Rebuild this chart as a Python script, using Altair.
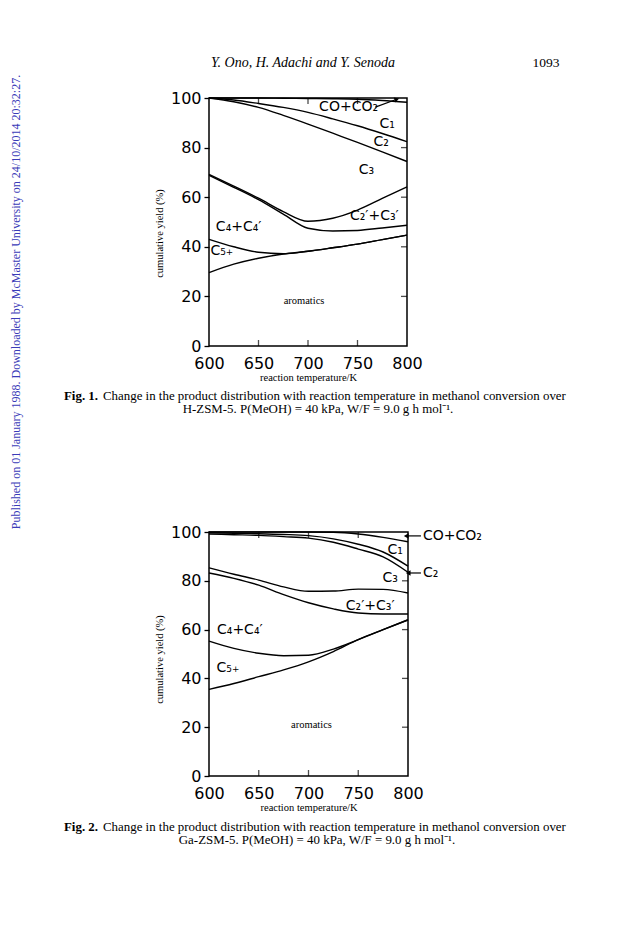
import altair as alt
import pandas as pd

# ---------------- data ----------------
T = [600, 625, 650, 675, 700, 725, 750, 775, 800]
boundary_names = ["aromatics", "C5+", "C4+C4'", "C2'+C3'", "C3", "C2", "C1"]

# Fig. 1  (H-ZSM-5) cumulative yield boundaries (% , upper edge of each band)
fig1_aromatics = [29.6, 33.0, 35.4, 37.1, 38.2, 39.6, 41.1, 42.9, 44.7]
fig1_c5 = [43.0, 40.0, 37.8, 37.2, 38.2, 39.6, 41.1, 42.9, 44.7]
fig1_c4 = [68.8, 64.0, 59.0, 53.2, 47.5, 46.4, 46.6, 47.6, 48.7]
fig1_c23ene = [69.2, 64.5, 59.6, 54.2, 50.3, 51.5, 54.8, 59.5, 64.2]
fig1_c3 = [100.0, 98.5, 96.2, 93.0, 89.5, 85.8, 82.1, 78.3, 74.4]
fig1_c2 = [100.0, 99.2, 97.8, 96.2, 94.2, 91.6, 88.8, 85.7, 82.4]
fig1_c1 = [100.0, 100.0, 100.0, 99.9, 99.8, 99.7, 99.5, 99.0, 98.3]

# Fig. 2  (Ga-ZSM-5)
fig2_aromatics = [35.5, 37.9, 40.7, 43.5, 46.8, 51.0, 55.9, 60.0, 64.0]
fig2_c5 = [55.3, 52.3, 50.3, 49.3, 49.5, 52.0, 55.9, 60.0, 64.0]
fig2_c4 = [83.2, 81.0, 78.2, 74.3, 71.0, 68.5, 66.8, 66.4, 66.4]
fig2_c23ene = [85.3, 82.7, 80.3, 77.5, 75.7, 75.8, 76.6, 76.5, 75.0]
fig2_c3 = [99.2, 98.9, 98.6, 98.1, 97.5, 95.8, 93.0, 89.8, 83.5]
fig2_c2 = [99.7, 99.5, 99.3, 99.0, 98.5, 97.2, 95.0, 91.8, 86.0]
fig2_c1 = [100.0, 100.0, 100.0, 100.0, 100.0, 99.9, 99.2, 97.8, 96.0]

fig1_labels = ["CO+CO₂", "C₁", "C₂", "C₃", "C₂′+C₃′", "C₄+C₄′", "C₅₊"]
fig1_label_T = [741, 780, 774, 759, 767, 630, 613]
fig1_label_y = [96.2, 89.5, 82.1, 70.9, 52.5, 47.8, 38.4]

fig2_labels = ["C₁", "C₃", "C₂′+C₃′", "C₄+C₄′", "C₅₊"]
fig2_label_T = [787, 782, 762, 631, 619]
fig2_label_y = [92.8, 81.2, 69.6, 60.0, 44.3]

fig2_side_labels = ["CO+CO₂", "C₂"]
fig2_side_T = [815, 815]
fig2_side_y = [98.4, 83.2]
fig2_arrow_from = [813, 813]
fig2_arrow_to = [799, 801]

fig1_arrow_T = [768, 789]
fig1_arrow_y = [96.3, 99.4]

aromatics_T = [696, 703]
aromatics_y = [18.2, 21.1]

x_ticks = [600, 650, 700, 750, 800]
y_ticks = [0, 20, 40, 60, 80, 100]
inner_x_ticks = [650, 700, 750]
inner_y_ticks = [20, 40, 60, 80]

header_text = "Y. Ono, H. Adachi and Y. Senoda"
page_number = "1093"
side_text = "Published on 01 January 1988. Downloaded by McMaster University on 24/10/2014 20:32:27."
fig1_caption = ["Change in the product distribution with reaction temperature in methanol conversion over",
                "H-ZSM-5. P(MeOH) = 40 kPa, W/F = 9.0 g h mol⁻¹."]
fig2_caption = ["Change in the product distribution with reaction temperature in methanol conversion over",
                "Ga-ZSM-5. P(MeOH) = 40 kPa, W/F = 9.0 g h mol⁻¹."]

SANS = "DejaVu Sans"
SERIF = "Liberation Serif"


def x_enc(title_y):
    return alt.X("T:Q", scale=alt.Scale(domain=[600, 800], nice=False, zero=False),
                 axis=alt.Axis(values=x_ticks, format="d", title="reaction temperature/K",
                               ticks=False, domain=False, grid=False, labelFlush=False,
                               labelOverlap=False, labelFont=SANS, labelFontSize=16,
                               labelColor="black", labelPadding=9, titleFont=SERIF,
                               titleFontSize=10.5, titleFontWeight="normal", titleColor="black",
                               titleY=title_y, titleBaseline="middle"))


def y_enc(title_y):
    return alt.Y("value:Q", scale=alt.Scale(domain=[0, 100], nice=False),
                 axis=alt.Axis(values=y_ticks, format="d", title="cumulative yield (%)",
                               tickSize=5, tickColor="black", tickWidth=1.3, domain=False,
                               grid=False, labelFont=SANS, labelFontSize=16, labelColor="black",
                               labelPadding=3, labelFlush=False, labelOverlap=False,
                               titleFont=SERIF, titleFontSize=10.5, titleFontWeight="normal",
                               titleColor="black", titleX=-50, titleY=title_y, titleAngle=270,
                               titleAlign="center", titleBaseline="middle"))


def panel(series, labels, lab_T, lab_y, arom_T, arom_y, w, h, title_y, ytitle_y):
    rows = []
    for name, vals in zip(boundary_names, series):
        for t, v in zip(T, vals):
            rows.append({"T": t, "value": v, "boundary": name})
    lines = alt.Chart(pd.DataFrame(rows)).mark_line(
        interpolate="monotone", color="black", strokeWidth=1.4
    ).encode(x=x_enc(title_y), y=y_enc(ytitle_y), detail="boundary:N")

    lab = alt.Chart(pd.DataFrame({"T": lab_T, "value": lab_y, "label": labels})).mark_text(
        font=SANS, fontSize=14, color="black"
    ).encode(x="T:Q", y="value:Q", text="label:N")

    arom = alt.Chart(pd.DataFrame({"T": [arom_T], "value": [arom_y], "label": ["aromatics"]})).mark_text(
        font=SERIF, fontSize=10.5, color="black"
    ).encode(x="T:Q", y="value:Q", text="label:N")

    tb = alt.Chart(pd.DataFrame({"T": inner_x_ticks, "value": [0] * 3})).mark_tick(
        orient="vertical", size=6, thickness=1.3, color="black", yOffset=-3
    ).encode(x="T:Q", y="value:Q")
    tt = alt.Chart(pd.DataFrame({"T": inner_x_ticks, "value": [100] * 3})).mark_tick(
        orient="vertical", size=6, thickness=1.3, color="black", yOffset=3
    ).encode(x="T:Q", y="value:Q")
    tr = alt.Chart(pd.DataFrame({"T": [800] * 4, "value": inner_y_ticks})).mark_tick(
        orient="horizontal", size=6, thickness=1.3, color="black", xOffset=-3
    ).encode(x="T:Q", y="value:Q")
    return [lines, lab, arom, tb, tt, tr]


def page_text(text, px, py, size, font=SERIF, style="normal", weight="normal",
              align="left", angle=0, color="black"):
    kw = dict(text=text, font=font, fontSize=size, fontStyle=style, fontWeight=weight,
              align=align, baseline="middle", color=color)
    if angle:
        kw["angle"] = angle
    return alt.Chart().mark_text(**kw).encode(x=alt.value(px), y=alt.value(py))


# ---------------- panel 1 ----------------
W1, H1 = 198, 248
p1 = panel([fig1_aromatics, fig1_c5, fig1_c4, fig1_c23ene, fig1_c3, fig1_c2, fig1_c1],
           fig1_labels, fig1_label_T, fig1_label_y, aromatics_T[0], aromatics_y[0],
           W1, H1, 31, 135)

arrow1 = alt.Chart(pd.DataFrame({"T": fig1_arrow_T, "value": fig1_arrow_y})).mark_line(
    color="black", strokeWidth=1.2, interpolate="monotone").encode(x="T:Q", y="value:Q")
arrow1_head = alt.Chart(pd.DataFrame({"T": fig1_arrow_T[1:], "value": fig1_arrow_y[1:]})).mark_point(
    shape="triangle", filled=True, size=30, angle=70, color="black", opacity=1
).encode(x="T:Q", y="value:Q")

anchor = alt.Chart().mark_rule(opacity=0, color="white").encode(
    x=alt.value(-200), x2=alt.value(-199), y=alt.value(-89), y2=alt.value(-88))

decor1 = [
    anchor,
    page_text(header_text, 94, -35, 14, style="italic", align="center"),
    page_text(page_number, 337, -35, 13.5, align="center"),
    page_text(side_text, -193, 204, 12, angle=270, align="center", color="#3b3bb8"),
    page_text("Fig. 1.", -145, 298, 12.9, weight="bold"),
    page_text(fig1_caption[0], -106, 298, 12.9),
    page_text(fig1_caption[1], 109, 311, 12.9, align="center"),
]

chart1 = alt.layer(*p1, arrow1, arrow1_head, *decor1).properties(width=W1, height=H1)

# ---------------- panel 2 ----------------
W2, H2 = 199, 244
p2 = panel([fig2_aromatics, fig2_c5, fig2_c4, fig2_c23ene, fig2_c3, fig2_c2, fig2_c1],
           fig2_labels, fig2_label_T, fig2_label_y, aromatics_T[1], aromatics_y[1],
           W2, H2, 31, 127)

side_df = pd.DataFrame({"T": fig2_side_T, "value": fig2_side_y, "label": fig2_side_labels,
                        "T0": fig2_arrow_from, "T1": fig2_arrow_to})
side_lab = alt.Chart(side_df).mark_text(font=SANS, fontSize=14, color="black", align="left").encode(
    x="T:Q", y="value:Q", text="label:N")
side_rule = alt.Chart(side_df).mark_rule(color="black", strokeWidth=1.2).encode(
    x="T0:Q", x2="T1:Q", y="value:Q")
side_head = alt.Chart(side_df).mark_point(shape="triangle", filled=True, size=30, angle=270,
                                          color="black", opacity=1).encode(x="T1:Q", y="value:Q")

decor2 = [
    page_text("Fig. 2.", -145, 295, 12.9, weight="bold"),
    page_text(fig2_caption[0], -106, 295, 12.9),
    page_text(fig2_caption[1], 108, 308, 12.9, align="center"),
]

chart2 = alt.layer(*p2, side_rule, side_head, side_lab, *decor2).properties(width=W2, height=H2)

chart = alt.vconcat(chart1, chart2, spacing=186, bounds="flush").properties(
    padding=0, background="white"
).configure(font=SANS).configure_view(stroke="black", strokeWidth=1.5)

chart.save("out.html", embed_options={"renderer": "svg", "actions": False})
